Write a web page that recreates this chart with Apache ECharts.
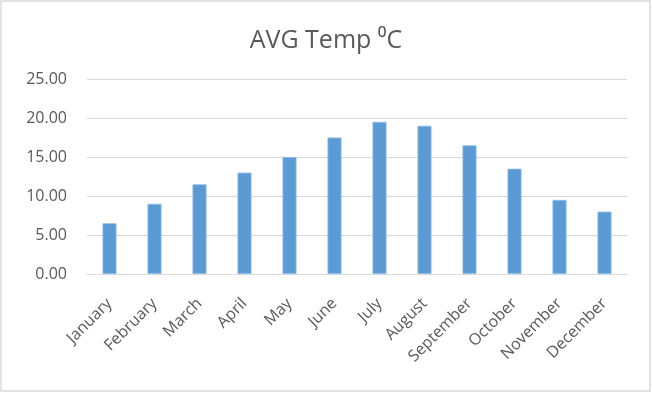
<!DOCTYPE html>
<html>
<head>
<meta charset="utf-8">
<script src="https://cdn.jsdelivr.net/npm/echarts@6/dist/echarts.min.js"></script>
<style>
html,body{margin:0;padding:0;background:#fff;}
#chart{width:652px;height:393px;}
</style>
</head>
<body>
<div id="chart"></div>
<script>
const chartTitle = 'AVG Temp ⁰C';
const months = ['January','February','March','April','May','June','July','August','September','October','November','December'];
const avgTemp = [6.5, 9.0, 11.5, 13.0, 15.0, 17.5, 19.5, 19.0, 16.5, 13.5, 9.5, 8.0];
const yMin = 0, yMax = 25, yStep = 5;

const chart = echarts.init(document.getElementById('chart'), null, {renderer:'canvas'});
const font = "'Open Sans', 'DejaVu Sans', sans-serif";
chart.setOption({
  animation: false,
  backgroundColor: '#ffffff',
  title: {
    text: chartTitle,
    left: 'center',
    top: 23,
    textStyle: {fontFamily: font, fontSize: 25, fontWeight: 'normal', color: '#595959'}
  },
  graphic: [{
    type: 'rect',
    shape: {x: 1, y: 1, width: 649, height: 390},
    style: {fill: 'none', stroke: '#d9d9d9', lineWidth: 1.5},
    silent: true
  }],
  grid: {left: 87, right: 25, top: 79, bottom: 119},
  xAxis: {
    type: 'category',
    data: months,
    axisLine: {show: true, lineStyle: {color: '#d9d9d9', width: 1}},
    axisTick: {show: false},
    axisLabel: {rotate: 45, margin: 27, interval: 0, fontFamily: font, fontSize: 16, color: '#595959'}
  },
  yAxis: {
    type: 'value',
    min: yMin, max: yMax, interval: yStep,
    axisLine: {show: false},
    axisTick: {show: false},
    splitLine: {lineStyle: {color: '#d9d9d9', width: 1}},
    axisLabel: {margin: 20, fontFamily: font, fontSize: 16, color: '#595959', formatter: v => v.toFixed(2)}
  },
  series: [{
    type: 'bar',
    data: avgTemp,
    barWidth: 14,
    itemStyle: {color: '#5b9bd5', borderColor: '#8fbbe3', borderWidth: 0.8}
  }]
});
</script>
</body>
</html>
